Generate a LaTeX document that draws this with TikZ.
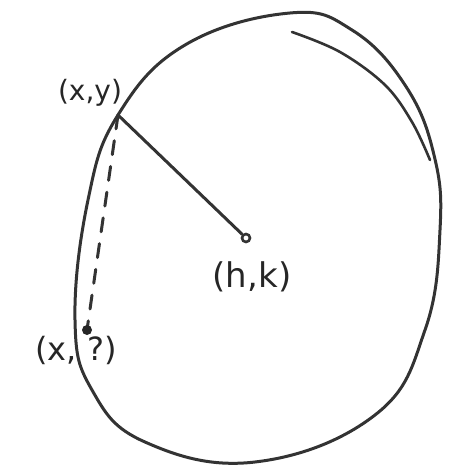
\documentclass[tikz,border=0pt]{standalone}
\usepackage{fontspec}
\setmainfont{DejaVu Sans}
\begin{document}
\begin{tikzpicture}[x=1pt,y=-1pt,
  ink/.style={draw=black!80,line width=3pt,line cap=round,line join=round},
  lbl/.style={font=\fontsize{28}{32}\selectfont,text=black!85,inner sep=0pt}]
\useasboundingbox (0,0) rectangle (449,465);
% outer circle
\draw[ink] plot[smooth cycle,tension=0.7] coordinates {
  (290,13) (352,30) (405,85) (434,155) (440,230) (425,330) (375,415)
  (255,462) (145,442) (92,390) (75,320) (88,200) (118,115) (185,45)};
% second stroke near top right
\draw[ink,line width=2.6pt] plot[smooth,tension=0.6] coordinates {
  (292,32) (340,52) (385,85) (412,122) (430,160)};
% points
\coordinate (P) at (118,115);
\coordinate (Q) at (87,330);
\node[draw=black!80,line width=2.6pt,circle,minimum size=8pt,inner sep=0pt] (C) at (246,238) {};
\draw[ink] (P) -- (C);
\draw[ink,dashed,dash pattern=on 14pt off 12pt] (P) -- (Q);
\fill[black!85] (Q) circle (5pt);
% labels
\node[lbl] (L1) at (90,93) {(x,y)};
\node[lbl,font=\fontsize{34}{38}\selectfont] (L2) at (252,277) {(h,k)};
\node[lbl,font=\fontsize{32}{36}\selectfont] (L3) at (76,350) {(x,\,\,?)};
\end{tikzpicture}
\end{document}
